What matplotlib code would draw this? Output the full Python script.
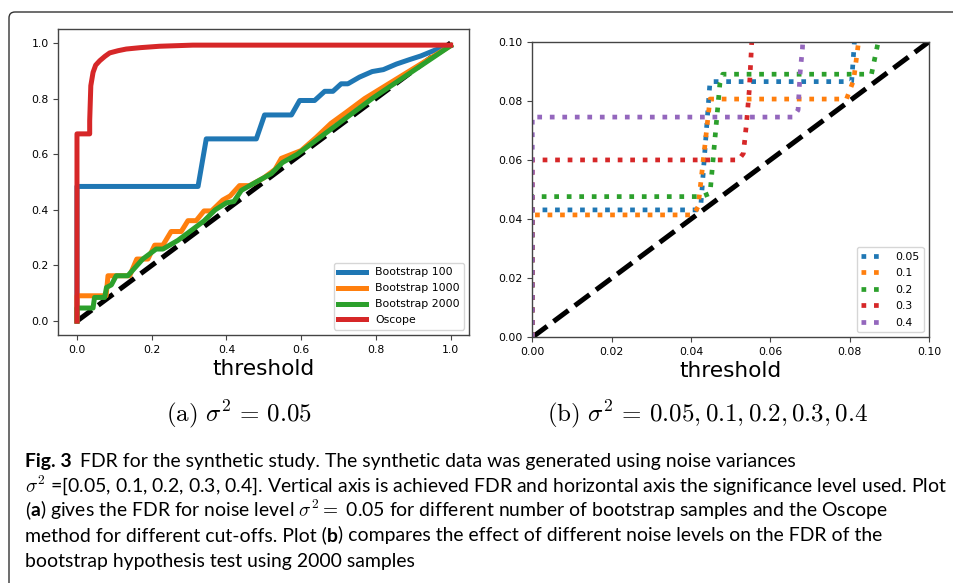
"""FDR for the synthetic study — two panels plus the figure caption."""

import matplotlib
matplotlib.use("Agg")
import matplotlib.pyplot as plt
from matplotlib import font_manager
from matplotlib.patches import FancyBboxPatch
from matplotlib.transforms import IdentityTransform

# ---- panel (a): sigma^2 = 0.05, bootstrap sizes vs Oscope ----
b100_x = [0, 0, 0.324, 0.346, 0.48, 0.502, 0.574, 0.596, 0.636, 0.663, 0.685, 0.707,
          0.725, 0.756, 0.79, 0.82, 0.855, 0.89, 0.92, 0.96, 1.0]
b100_y = [0, 0.484, 0.484, 0.655, 0.655, 0.741, 0.741, 0.793, 0.793, 0.826, 0.826, 0.853,
          0.853, 0.877, 0.897, 0.904, 0.924, 0.94, 0.953, 0.975, 0.99]

b1000_x = [0, 0, 0.078, 0.083, 0.141, 0.16, 0.19, 0.208, 0.23, 0.252, 0.279, 0.297, 0.319, 0.34,
           0.36, 0.39, 0.41, 0.435, 0.462, 0.5, 0.53, 0.547, 0.6, 0.64, 0.68, 0.72, 0.77, 1.0]
b1000_y = [0, 0.091, 0.091, 0.163, 0.163, 0.223, 0.223, 0.273, 0.273, 0.322, 0.322, 0.361, 0.361, 0.396,
           0.396, 0.435, 0.45, 0.487, 0.487, 0.515, 0.545, 0.585, 0.613, 0.66, 0.711, 0.75, 0.80, 0.99]

b2000_x = [0, 0, 0.043, 0.047, 0.074, 0.079, 0.092, 0.105, 0.136, 0.176, 0.212, 0.23, 0.27, 0.31,
           0.34, 0.37, 0.4, 0.42, 0.44, 0.48, 0.52, 0.55, 0.59, 0.64, 0.69, 0.74, 0.79, 1.0]
b2000_y = [0, 0.047, 0.047, 0.085, 0.085, 0.121, 0.13, 0.163, 0.163, 0.223, 0.259, 0.259, 0.29, 0.33,
           0.36, 0.4, 0.425, 0.43, 0.47, 0.5, 0.53, 0.57, 0.6, 0.65, 0.7, 0.75, 0.8, 0.99]

oscope_x = [0, 0, 0.034, 0.034, 0.037, 0.043, 0.05, 0.061, 0.075, 0.0875, 0.11, 0.132, 0.17, 0.221, 0.31, 1.0]
oscope_y = [0, 0.673, 0.673, 0.72, 0.846, 0.894, 0.92, 0.936, 0.952, 0.964, 0.972, 0.978, 0.983, 0.988, 0.992, 0.992]

labels_a = ["Bootstrap 100", "Bootstrap 1000", "Bootstrap 2000", "Oscope"]

# ---- panel (b): bootstrap 2000 for several noise levels ----
noise_levels = ["0.05", "0.1", "0.2", "0.3", "0.4"]
n005_x = [0, 0, 0.0414, 0.0425, 0.0448, 0.0805, 0.0812, 0.083]
n005_y = [0, 0.0431, 0.0431, 0.045, 0.0865, 0.0865, 0.1, 0.11]
n01_x = [0, 0, 0.0406, 0.0418, 0.0448, 0.0792, 0.081, 0.0822, 0.083]
n01_y = [0, 0.0414, 0.0414, 0.0442, 0.0806, 0.0806, 0.087, 0.0995, 0.11]
n02_x = [0, 0, 0.0427, 0.0448, 0.0473, 0.048, 0.0855, 0.0872, 0.088]
n02_y = [0, 0.0476, 0.0476, 0.0487, 0.086, 0.089, 0.089, 0.1, 0.11]
n03_x = [0, 0, 0.052, 0.0532, 0.054, 0.0547, 0.0553, 0.056]
n03_y = [0, 0.06, 0.06, 0.0622, 0.0724, 0.0837, 0.0995, 0.11]
n04_x = [0, 0, 0.0658, 0.067, 0.0675, 0.0681, 0.0685]
n04_y = [0, 0.0745, 0.0745, 0.0769, 0.0893, 0.0978, 0.11]

COLORS = ["#1f77b4", "#ff7f0e", "#2ca02c", "#d62728", "#9467bd"]

W, H = 954, 583
fig = plt.figure(figsize=(W / 100, H / 100), dpi=100)


def px_axes(left, top, right, bottom):
    return fig.add_axes([left / W, 1 - bottom / H, (right - left) / W, (bottom - top) / H])


def style_axes(ax):
    for sp in ax.spines.values():
        sp.set_color("#444444")
        sp.set_linewidth(1.0)
    ax.tick_params(labelsize=7.8, length=3.5, width=0.8, color="#444444")
    ax.set_xlabel("threshold", fontsize=15.6, labelpad=3)


# panel (a)
ax1 = px_axes(58.3, 29, 469.3, 335)
ax1.plot([0, 1], [0, 1], color="black", lw=3.6, ls="--", zorder=1)
for xs, ys, c, lab in zip([b100_x, b1000_x, b2000_x, oscope_x],
                          [b100_y, b1000_y, b2000_y, oscope_y], COLORS, labels_a):
    ax1.plot(xs, ys, color=c, lw=3.6, label=lab, zorder=2)
ax1.set_xlim(-0.05, 1.05)
ax1.set_ylim(-0.05, 1.05)
ax1.set_xticks([0, 0.2, 0.4, 0.6, 0.8, 1.0])
ax1.set_yticks([0, 0.2, 0.4, 0.6, 0.8, 1.0])
style_axes(ax1)
ax1.legend(loc="lower right", fontsize=7.8, handlelength=2.6, labelspacing=0.55)

# panel (b)
ax2 = px_axes(532.3, 41.7, 929, 337.3)
ax2.plot([0, 0.1], [0, 0.1], color="black", lw=3.6, ls="--", zorder=1)
for xs, ys, c, lab in zip([n005_x, n01_x, n02_x, n03_x, n04_x],
                          [n005_y, n01_y, n02_y, n03_y, n04_y], COLORS, noise_levels):
    ax2.plot(xs, ys, color=c, lw=3.4, ls=":", label=lab, zorder=2)
ax2.set_xlim(0, 0.1)
ax2.set_ylim(0, 0.1)
ax2.set_xticks([0, 0.02, 0.04, 0.06, 0.08, 0.10])
ax2.set_yticks([0, 0.02, 0.04, 0.06, 0.08, 0.10])
ax2.xaxis.set_major_formatter(lambda v, p: f"{v:.2f}")
ax2.yaxis.set_major_formatter(lambda v, p: f"{v:.2f}")
style_axes(ax2)
ax2.legend(loc="lower right", fontsize=7.8, handlelength=2.3, labelspacing=0.6)

# sub-captions (LaTeX look)
fig.text(239 / W, 1 - 414 / H, r"$\mathrm{(a)}\ \sigma^2\,=\,0.05$", math_fontfamily="cm",
         fontsize=18, ha="center", va="center")
fig.text(707 / W, 1 - 414 / H, r"$\mathrm{(b)}\ \sigma^2\,=\,0.05, 0.1, 0.2, 0.3, 0.4$",
         math_fontfamily="cm", fontsize=18, ha="center", va="center")

# frame around the whole figure block (continues past right / bottom edge)
frame = FancyBboxPatch((9, -50), 1000, H - 12 + 50, boxstyle="round,pad=0,rounding_size=6",
                       transform=IdentityTransform(), fill=False, ec="#333333", lw=1.0)
fig.add_artist(frame)

# ---- caption ----
names = {f.name for f in font_manager.fontManager.ttflist}
cap_font = "Lato" if "Lato" in names else "DejaVu Sans"
renderer = fig.canvas.get_renderer()

caption_lines = [
    [("Fig. 3", "bold", 0),
     ("FDR for the synthetic study. The synthetic data was generated using noise variances", "normal", 1.6)],
    [(r"$\sigma^2$ =[0.05, 0.1, 0.2, 0.3, 0.4]. Vertical axis is achieved FDR and horizontal axis "
      r"the significance level used. Plot", "normal", 0)],
    [("(", "normal", 0), ("a", "bold", 0),
     (r") gives the FDR for noise level $\sigma^2 =$ 0.05 for different number of bootstrap "
      r"samples and the Oscope", "normal", 0)],
    [("method for different cut-offs. Plot (", "normal", 0), ("b", "bold", 0),
     (") compares the effect of different noise levels on the FDR of the", "normal", 0)],
    [("bootstrap hypothesis test using 2000 samples", "normal", 0)],
]


def draw_runs(x0, y_img, runs, size, keep=True):
    def mk(s, weight):
        return fig.text(0, 0, s, transform=IdentityTransform(), fontsize=size, fontweight=weight,
                        family=cap_font, math_fontfamily="cm", va="baseline", ha="left")

    a, b = mk("n n", "normal"), mk("nn", "normal")
    space = a.get_window_extent(renderer).width - b.get_window_extent(renderer).width
    a.remove(); b.remove()
    x = x0
    for s, weight, gap in runs:
        x += gap * space
        t = mk(s, weight)
        t.set_position((x, H - y_img))
        x += t.get_window_extent(renderer).width
        if not keep:
            t.remove()
    return x


base = 12.0
end = draw_runs(25, 0, caption_lines[2], base, keep=False)
cap_size = base * (884 - 25) / (end - 25)

for i, runs in enumerate(caption_lines):
    draw_runs(25, 466.5 + 25 * i, runs, cap_size)

fig.savefig("out.png", dpi=100)
